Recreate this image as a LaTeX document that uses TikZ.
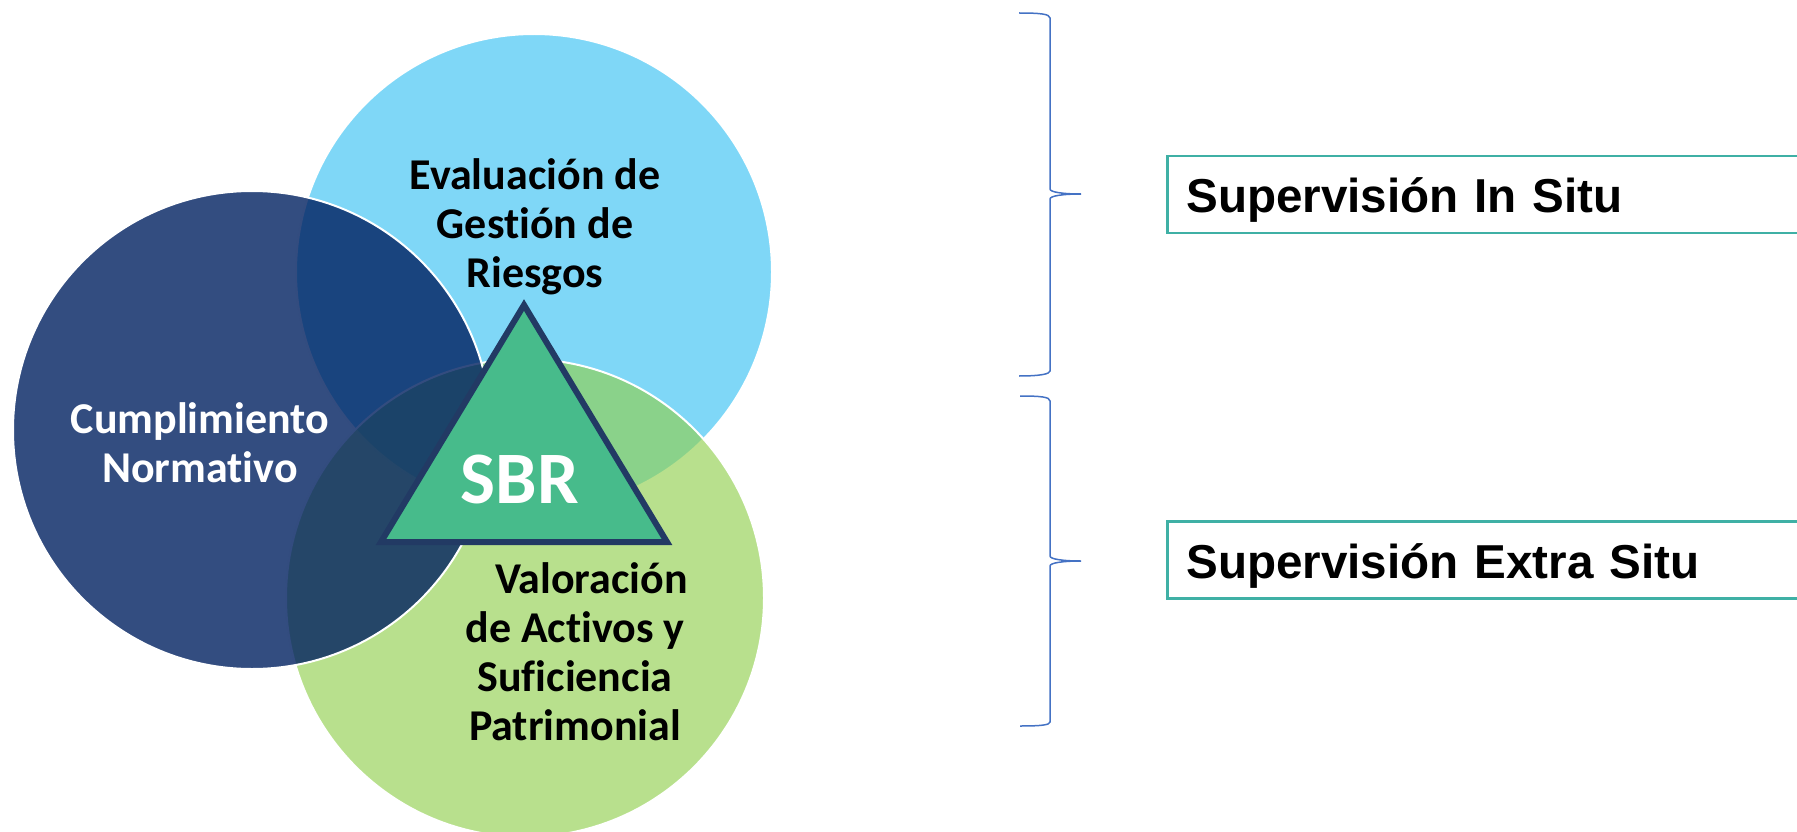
\documentclass[tikz,border=0pt]{standalone}
\usepackage{fontspec}
\newfontfamily\calibri{Carlito}[Ligatures=NoCommon]
\newfontfamily\arial{Liberation Sans}
\definecolor{riskblue}{HTML}{00B0F0}
\definecolor{normblue}{HTML}{002060}
\definecolor{capgreen}{HTML}{92D050}
\definecolor{sbrgreen}{HTML}{47BB8B}
\definecolor{sbrborder}{HTML}{223A64}
\definecolor{bracecol}{HTML}{4472C4}
\definecolor{boxteal}{HTML}{3FB0A5}
\tikzset{
  venn/.style={draw=white, line width=2pt},
  vennlabel/.style={font=\calibri\bfseries\fontsize{44}{49}\selectfont, align=center, anchor=base, inner sep=0pt},
  situbox/.style={draw=boxteal, line width=2.5pt, anchor=west, minimum height=77pt, text width=620pt,
    text height=48pt, text depth=11.4pt, inner xsep=19pt, align=left,
    font=\arial\bfseries\fontsize{47.6}{58}\selectfont},
  bracket/.style={draw=bracecol, line width=1.5pt},
}
\begin{document}
\begin{tikzpicture}[x=1pt,y=-1pt]
\useasboundingbox (0,0) rectangle (1797,832);
\clip (0,0) rectangle (1797,832);

% Drawing circle of risk management
\draw[venn, fill=riskblue, fill opacity=0.5] (534,272) circle (238pt);%

% Drawing circle of capital
\draw[venn, fill=capgreen, fill opacity=0.65] (525,598) circle (239pt);%

% Drawing circle of compliance
\draw[venn, fill=normblue, fill opacity=0.8] (252,430) circle (239pt);%

% Drawing triangle SBR
\draw[draw=sbrborder, fill=sbrgreen, line width=6pt, line join=miter] (524,305) -- (667,542) -- (381,542) -- cycle;%

% Marking texts of circles (base of last line)
\node[vennlabel] (risk) at (535,287) {Evaluación de\\Gestión de\\Riesgos};%
\node[vennlabel, text=white] (norm) at (200,482) {Cumplimiento\\Normativo};%
\node[vennlabel] (capital) at (575,740) {\hspace*{33pt}Valoración\\de Activos y\\Suficiencia\\Patrimonial};%
\node[vennlabel, text=white, font=\calibri\bfseries\fontsize{74}{80}\selectfont] (sbr) at (520,503) {SBR};%

% Drawing upper brace
\draw[bracket] (1019,13) .. controls (1040,13) and (1050,14) .. (1050,18) -- (1050,189)
  .. controls (1050,192) and (1062,194) .. (1081,194) .. controls (1062,194) and (1050,196) .. (1050,199)
  -- (1050,371) .. controls (1050,374) and (1040,376) .. (1019,376);%

% Drawing lower brace
\draw[bracket] (1020,396) .. controls (1041,396) and (1050,397) .. (1050,401) -- (1050,556)
  .. controls (1050,559) and (1062,561) .. (1081,561) .. controls (1062,561) and (1050,563) .. (1050,566)
  -- (1050,722) .. controls (1050,725) and (1041,726) .. (1020,726);%

% Marking boxes of supervision
\node[situbox] (insitu) at (1166,194.4) {Supervisión In Situ};%
\node[situbox] (extrasitu) at (1166,560.2) {Supervisión Extra Situ};%
\end{tikzpicture}
\end{document}
